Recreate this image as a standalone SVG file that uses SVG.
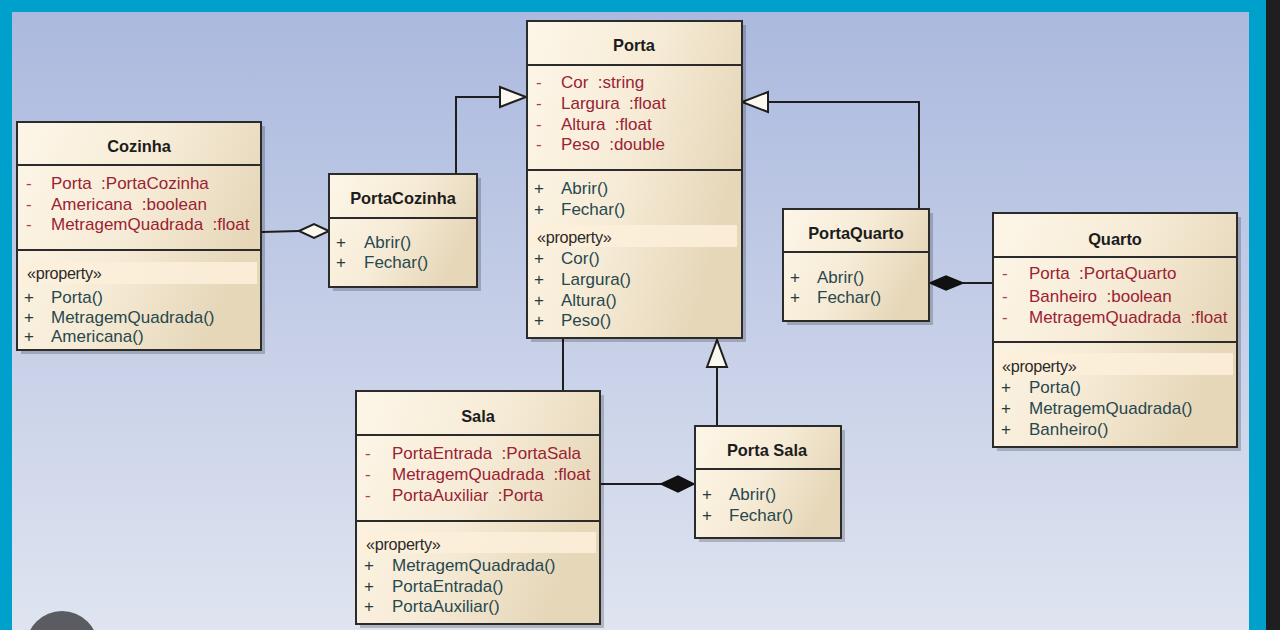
<svg xmlns="http://www.w3.org/2000/svg" width="1280" height="630" viewBox="0 0 1280 630">
<defs>
<linearGradient id="bg" x1="0" y1="0" x2="0" y2="1">
<stop offset="0" stop-color="#abb9de"/>
<stop offset="1" stop-color="#dfe4f0"/>
</linearGradient>
<linearGradient id="bx" x1="0" y1="0" x2="1" y2="0.4">
<stop offset="0" stop-color="#fdf6e8"/>
<stop offset="0.55" stop-color="#f6ebd6"/>
<stop offset="1" stop-color="#e6d7b9"/>
</linearGradient>
<style>
.sh{fill:#000;opacity:.2}
.box{fill:url(#bx);stroke:#2b2b2b;stroke-width:2}
.ln{stroke:#2b2b2b;stroke-width:2}
.band{fill:#fdf0da;opacity:.85}
text{font-family:"Liberation Sans",Arial,sans-serif;white-space:pre}
.t{font-size:16.4px;font-weight:bold;fill:#1c1c1c;text-anchor:middle}
.a{font-size:17px;fill:#9a2233}
.d{font-size:17px;fill:#b53a48}
.m{font-size:17px;fill:#27484e}
.p{font-size:17px;fill:#2a3a3c}
.st{font-size:16.2px;fill:#2a2a2a;letter-spacing:-0.3px}
.c{fill:none;stroke:#1e1e1e;stroke-width:2}
.hol{fill:#fbf8f0;stroke:#1e1e1e;stroke-width:2}
.fil{fill:#111;stroke:#111;stroke-width:1.5}
</style>
</defs>
<rect x="0" y="0" width="1280" height="630" fill="#00a0cc"/>
<rect x="12" y="12" width="1237" height="618" fill="url(#bg)"/>
<rect x="1266" y="0" width="14" height="630" fill="#1f1f21"/>

<g id="connectors">
<polyline class="c" points="456,174 456,97 500,97"/>
<polygon class="hol" points="500,87 526,97 500,107"/>
<polyline class="c" points="919,209 919,102 768,102"/>
<polygon class="hol" points="768,92 742,102 768,112"/>
<line class="c" x1="717" y1="426" x2="717" y2="367"/>
<polygon class="hol" points="707,367 717,340 727,367"/>
<line class="c" x1="563" y1="391" x2="563" y2="339"/>
<line class="c" x1="262" y1="232" x2="299" y2="231"/>
<polygon class="hol" points="299,231 314,224 329,231 314,238"/>
<line class="c" x1="993" y1="283" x2="963" y2="283"/>
<polygon class="fil" points="930,283 946,276 963,283 946,290"/>
<line class="c" x1="600" y1="484" x2="661" y2="484"/>
<polygon class="fil" points="661,484 678,476 694,484 678,492"/>
</g>

<g id="Cozinha">
<rect class="sh" x="21" y="126" width="244" height="228"/>
<rect class="box" x="17" y="122" width="244" height="228"/>
<line class="ln" x1="17" y1="165" x2="261" y2="165"/>
<line class="ln" x1="17" y1="250" x2="261" y2="250"/>
<rect class="band" x="21" y="262" width="236" height="22"/>
<text class="t" x="139" y="152">Cozinha</text>
<text class="d" x="26" y="189">-</text><text class="a" x="51" y="189">Porta  :PortaCozinha</text>
<text class="d" x="26" y="210">-</text><text class="a" x="51" y="210">Americana  :boolean</text>
<text class="d" x="26" y="230">-</text><text class="a" x="51" y="230">MetragemQuadrada  :float</text>
<text class="st" x="27" y="279">«property»</text>
<text class="p" x="24" y="303">+</text><text class="m" x="51" y="303">Porta()</text>
<text class="p" x="24" y="323">+</text><text class="m" x="51" y="323">MetragemQuadrada()</text>
<text class="p" x="24" y="342">+</text><text class="m" x="51" y="342">Americana()</text>
</g>

<g id="PortaCozinha">
<rect class="sh" x="333" y="178" width="148" height="113"/>
<rect class="box" x="329" y="174" width="148" height="113"/>
<line class="ln" x1="329" y1="218" x2="477" y2="218"/>
<text class="t" x="403" y="204">PortaCozinha</text>
<text class="p" x="336" y="248">+</text><text class="m" x="364" y="248">Abrir()</text>
<text class="p" x="336" y="268">+</text><text class="m" x="364" y="268">Fechar()</text>
</g>

<g id="Porta">
<rect class="sh" x="531" y="25" width="215" height="317"/>
<rect class="box" x="527" y="21" width="215" height="317"/>
<line class="ln" x1="527" y1="65" x2="742" y2="65"/>
<line class="ln" x1="527" y1="170" x2="742" y2="170"/>
<rect class="band" x="531" y="225" width="206" height="22"/>
<text class="t" x="634" y="51">Porta</text>
<text class="d" x="536" y="88">-</text><text class="a" x="561" y="88">Cor  :string</text>
<text class="d" x="536" y="109">-</text><text class="a" x="561" y="109">Largura  :float</text>
<text class="d" x="536" y="130">-</text><text class="a" x="561" y="130">Altura  :float</text>
<text class="d" x="536" y="150">-</text><text class="a" x="561" y="150">Peso  :double</text>
<text class="p" x="534" y="194">+</text><text class="m" x="561" y="194">Abrir()</text>
<text class="p" x="534" y="215">+</text><text class="m" x="561" y="215">Fechar()</text>
<text class="st" x="537" y="243">«property»</text>
<text class="p" x="534" y="264">+</text><text class="m" x="561" y="264">Cor()</text>
<text class="p" x="534" y="285">+</text><text class="m" x="561" y="285">Largura()</text>
<text class="p" x="534" y="306">+</text><text class="m" x="561" y="306">Altura()</text>
<text class="p" x="534" y="326">+</text><text class="m" x="561" y="326">Peso()</text>
</g>

<g id="PortaQuarto">
<rect class="sh" x="787" y="213" width="146" height="112"/>
<rect class="box" x="783" y="209" width="146" height="112"/>
<line class="ln" x1="783" y1="252" x2="929" y2="252"/>
<text class="t" x="856" y="239">PortaQuarto</text>
<text class="p" x="790" y="283">+</text><text class="m" x="817" y="283">Abrir()</text>
<text class="p" x="790" y="303">+</text><text class="m" x="817" y="303">Fechar()</text>
</g>

<g id="Quarto">
<rect class="sh" x="997" y="217" width="244" height="234"/>
<rect class="box" x="993" y="213" width="244" height="234"/>
<line class="ln" x1="993" y1="257" x2="1237" y2="257"/>
<line class="ln" x1="993" y1="342" x2="1237" y2="342"/>
<rect class="band" x="997" y="353" width="236" height="22"/>
<text class="t" x="1115" y="245">Quarto</text>
<text class="d" x="1002" y="279">-</text><text class="a" x="1029" y="279">Porta  :PortaQuarto</text>
<text class="d" x="1002" y="302">-</text><text class="a" x="1029" y="302">Banheiro  :boolean</text>
<text class="d" x="1002" y="323">-</text><text class="a" x="1029" y="323">MetragemQuadrada  :float</text>
<text class="st" x="1002" y="372">«property»</text>
<text class="p" x="1001" y="393">+</text><text class="m" x="1029" y="393">Porta()</text>
<text class="p" x="1001" y="414">+</text><text class="m" x="1029" y="414">MetragemQuadrada()</text>
<text class="p" x="1001" y="435">+</text><text class="m" x="1029" y="435">Banheiro()</text>
</g>

<g id="Sala">
<rect class="sh" x="360" y="395" width="244" height="233"/>
<rect class="box" x="356" y="391" width="244" height="233"/>
<line class="ln" x1="356" y1="435" x2="600" y2="435"/>
<line class="ln" x1="356" y1="521" x2="600" y2="521"/>
<rect class="band" x="360" y="532" width="236" height="21"/>
<text class="t" x="478" y="422">Sala</text>
<text class="d" x="365" y="459">-</text><text class="a" x="392" y="459">PortaEntrada  :PortaSala</text>
<text class="d" x="365" y="480">-</text><text class="a" x="392" y="480">MetragemQuadrada  :float</text>
<text class="d" x="365" y="501">-</text><text class="a" x="392" y="501">PortaAuxiliar  :Porta</text>
<text class="st" x="366" y="550">«property»</text>
<text class="p" x="364" y="571">+</text><text class="m" x="392" y="571">MetragemQuadrada()</text>
<text class="p" x="364" y="592">+</text><text class="m" x="392" y="592">PortaEntrada()</text>
<text class="p" x="364" y="612">+</text><text class="m" x="392" y="612">PortaAuxiliar()</text>
</g>

<g id="PortaSala">
<rect class="sh" x="699" y="430" width="146" height="112"/>
<rect class="box" x="695" y="426" width="146" height="112"/>
<line class="ln" x1="695" y1="469" x2="841" y2="469"/>
<text class="t" x="767" y="456">Porta Sala</text>
<text class="p" x="702" y="500">+</text><text class="m" x="729" y="500">Abrir()</text>
<text class="p" x="702" y="521">+</text><text class="m" x="729" y="521">Fechar()</text>
</g>

<circle cx="62" cy="647" r="36" fill="#5b5b62"/>
</svg>
